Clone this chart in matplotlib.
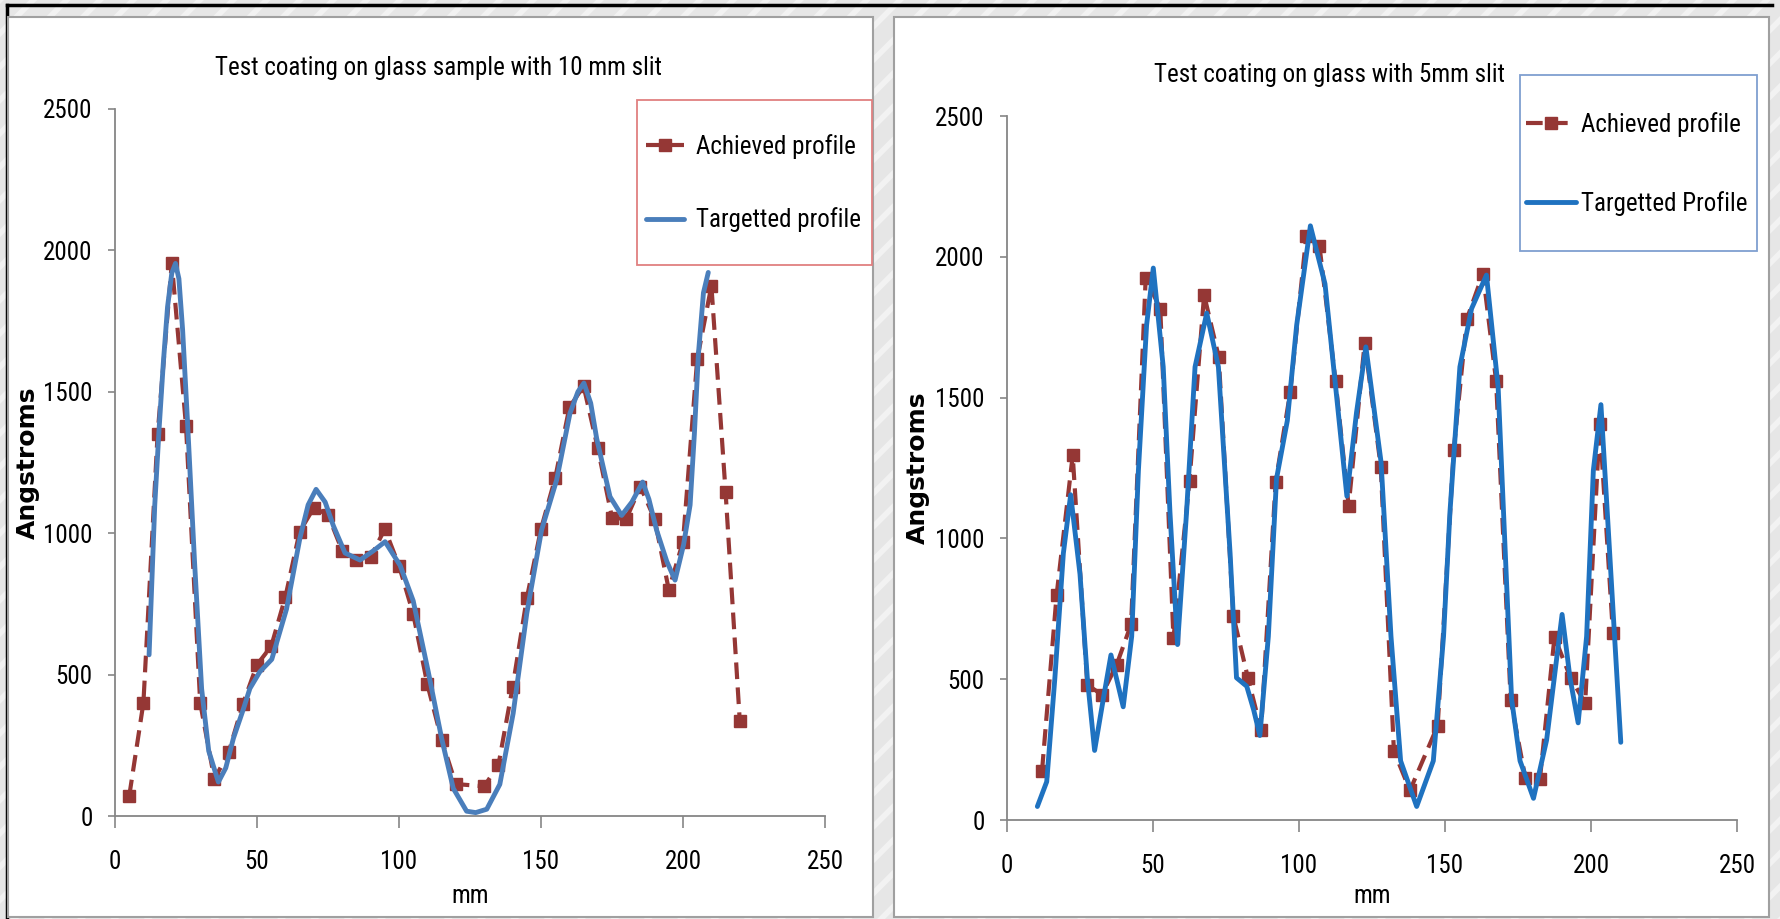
import matplotlib
matplotlib.use("Agg")
import matplotlib.pyplot as plt
from matplotlib import font_manager
from matplotlib.patches import Rectangle
from matplotlib.lines import Line2D

# the reference uses a narrow font; take the narrowest one that is installed
installed = [(f.name, str(f.stretch)) for f in font_manager.fontManager.ttflist]
FONT, STRETCH, FS = 'Liberation Sans', 'normal', 16.5
for name, stretch, size in [('Liberation Sans Narrow', 'normal', 19),
                            ('Roboto Condensed', 'normal', 18),
                            ('DejaVu Sans', 'condensed', 16),
                            ('Noto Sans', 'condensed', 17)]:
    if any(n == name and (stretch == 'normal' or s == stretch) for n, s in installed):
        FONT, STRETCH, FS = name, stretch, size
        break
plt.rcParams['font.family'] = [FONT, 'DejaVu Sans']
plt.rcParams['font.stretch'] = STRETCH

# left chart: 10 mm slit
left_title = "Test coating on glass sample with 10 mm slit"
left_ach_x = [5, 10, 15, 20, 25, 30, 35, 40, 45, 50, 55, 60, 65, 70, 75, 80, 85, 90, 95, 100,
              105, 110, 115, 120, 130, 135, 140, 145, 150, 155, 160, 165, 170, 175, 180, 185,
              190, 195, 200, 205, 210, 215, 220]
left_ach_y = [70, 400, 1350, 1955, 1380, 400, 130, 225, 395, 535, 600, 775, 1005, 1090, 1065,
              938, 905, 915, 1015, 885, 715, 465, 270, 113, 105, 180, 455, 770, 1015, 1195,
              1445, 1520, 1300, 1055, 1050, 1165, 1050, 800, 970, 1615, 1875, 1145, 335]
left_tgt_x = [12, 14, 15.5, 17, 18.5, 20, 21.3, 22.5, 23.8, 25.5, 28, 30.5, 33, 36.4, 39, 41.7,
              45.2, 47.5, 51, 55.2, 60.4, 65.1, 68, 70.8, 74, 76.9, 81, 86.3, 91, 95.1, 100.4,
              105, 110.3, 115, 119.1, 123.8, 127, 130.9, 135.5, 140.2, 145, 150.2, 155.5,
              160.2, 163, 165.1, 167.5, 169.6, 174.3, 178.4, 182, 185.8, 188, 190.7, 194.3,
              197.2, 200.2, 202.5, 204, 205.4, 207.2, 208.9]
left_tgt_y = [570, 1100, 1365, 1600, 1800, 1920, 1954, 1900, 1720, 1400, 900, 450, 230, 120,
              170, 275, 378, 451, 510, 554, 732, 982, 1100, 1155, 1110, 1026, 930, 905, 938,
              970, 886, 761, 510, 275, 98, 17, 12, 24, 112, 363, 717, 1011, 1188, 1424,
              1500, 1531, 1460, 1335, 1129, 1063, 1110, 1181, 1120, 1011, 900, 834, 959,
              1100, 1350, 1630, 1850, 1922]

# right chart: 5 mm slit
right_title = "Test coating on glass with 5mm slit"
right_ach_x = [12, 17, 22.5, 27.5, 32.5, 37.5, 42.5, 47.5, 52.5, 57, 62.5, 67.5, 72.5, 77.5,
               82.5, 87, 92, 97, 102.5, 107, 112.5, 117, 122.5, 128, 132.5, 138, 147.5, 153,
               157.5, 163, 167.5, 172.5, 177.5, 182.5, 187.5, 193, 198, 203, 207.5]
right_ach_y = [175, 800, 1295, 480, 445, 550, 695, 1925, 1815, 645, 1205, 1865, 1645, 725,
               505, 320, 1200, 1520, 2075, 2040, 1560, 1115, 1695, 1255, 245, 105, 335, 1315,
               1780, 1940, 1560, 425, 150, 145, 650, 505, 415, 1405, 665]
right_tgt_x = [10.4, 13.6, 16.4, 19.3, 21.8, 25, 27.5, 30, 33, 35.6, 39.8, 42.7, 45, 47.8,
               50.1, 53.5, 55.8, 58.4, 61.5, 64.4, 68.4, 72.4, 76.4, 78.6, 82.1, 84.5, 86.6,
               89.5, 92.3, 96, 99.2, 103.9, 108.9, 112.3, 116.4, 119.7, 122.9, 128.1, 131.5,
               134.8, 140.3, 146, 149.5, 151.7, 155.1, 159.1, 164.2, 168.2, 170.5, 172.8,
               175.7, 180.3, 184.8, 190.1, 192.8, 195.6, 198.5, 200.8, 203.4, 206.4, 210.2]
right_tgt_y = [48, 136, 505, 947, 1155, 873, 505, 247, 431, 586, 402, 652, 1241, 1757,
               1960, 1609, 1094, 623, 1094, 1609, 1800, 1609, 947, 505, 475, 390, 300,
               652, 1212, 1418, 1757, 2110, 1904, 1563, 1150, 1447, 1680, 1271, 652,
               210, 48, 210, 652, 1094, 1609, 1816, 1935, 1536, 983, 430,
               210, 77, 284, 730, 505, 345, 652, 1241, 1475, 947, 276]

xticks = [0, 50, 100, 150, 200, 250]
yticks = [0, 500, 1000, 1500, 2000, 2500]

W, H = 1780, 919
RED = '#953735'


def fx(px):
    return px / W


def fy(py):
    return 1 - py / H


fig = plt.figure(figsize=(W / 100, H / 100), dpi=100)
fig.patch.set_facecolor('#e6e6e6')
plt.rcParams['hatch.linewidth'] = 4
fig.add_artist(Rectangle((0, 0), 1, 1, transform=fig.transFigure, facecolor='#e6e6e6',
                         edgecolor='#f2f2f2', hatch='/', lw=0, zorder=-3))
# outer frame
fig.add_artist(Line2D([fx(7), fx(1772)], [fy(5), fy(5)], color='black', lw=2.5, zorder=-2))
fig.add_artist(Line2D([fx(7), fx(7)], [fy(5), 0], color='black', lw=2.5, zorder=-2))
# white chart panels
for x0, x1 in [(8, 873), (894, 1769)]:
    fig.add_artist(Rectangle((fx(x0), fy(917)), (x1 - x0) / W, 900 / H,
                             transform=fig.transFigure, facecolor='white',
                             edgecolor='#a0a0a0', lw=1.5, zorder=-1))


def make_panel(box, title, title_x, ach_x, ach_y, tgt_x, tgt_y, blue, legend_box,
               legend_pos, handlelen, textpad, spacing, tgt_label, legend_edge, ylab_x, xlab_y):
    l, b, r, t = box
    ax = fig.add_axes([fx(l), fy(b), (r - l) / W, (b - t) / H])
    ax.patch.set_alpha(0)
    ax.plot(ach_x, ach_y, color=RED, lw=3, dashes=(4, 2), marker='s', markersize=8,
            label='Achieved profile', zorder=3)
    ax.plot(tgt_x, tgt_y, color=blue, lw=3.5, label=tgt_label, zorder=4,
            solid_joinstyle='round', solid_capstyle='round')
    ax.set_xlim(0, 250)
    ax.set_ylim(0, 2500)
    ax.set_xticks(xticks)
    ax.set_yticks(yticks)
    for s in ['top', 'right']:
        ax.spines[s].set_visible(False)
    for s in ['left', 'bottom']:
        ax.spines[s].set_color('#868686')
        ax.spines[s].set_linewidth(1.3)
    ax.tick_params(axis='x', length=8.6, width=1.2, color='#868686', pad=16, labelsize=FS)
    ax.tick_params(axis='y', length=5, width=1.2, color='#868686', pad=11, labelsize=FS)
    ax.text(title_x, 1.058, title, transform=ax.transAxes, ha='center', va='center',
            fontsize=FS)
    ax.set_xlabel('mm', fontsize=FS)
    ax.xaxis.label.set_va('center')
    ax.xaxis.set_label_coords(0.5, xlab_y)
    ax.set_ylabel('Angstroms', fontsize=18, fontweight='bold', family='DejaVu Sans',
                  stretch='normal')
    ax.yaxis.label.set_va('center')
    ax.yaxis.set_label_coords(ylab_x, 0.5)

    lx0, ly0, lx1, ly1 = legend_box
    frame = Rectangle((fx(lx0), fy(ly1)), (lx1 - lx0) / W, (ly1 - ly0) / H,
                      transform=fig.transFigure, facecolor='white',
                      edgecolor=legend_edge, lw=1.3, zorder=5, clip_on=False)
    ax.add_artist(frame)
    leg = ax.legend(loc='center left', bbox_to_anchor=(fx(legend_pos[0]), fy(legend_pos[1])),
                    bbox_transform=fig.transFigure, frameon=False, fontsize=FS,
                    borderpad=0, borderaxespad=0, handlelength=handlelen,
                    handletextpad=textpad, labelspacing=spacing, numpoints=1)
    leg.set_zorder(6)
    return ax


make_panel((115, 816, 825, 109), left_title, 0.456, left_ach_x, left_ach_y,
           left_tgt_x, left_tgt_y, '#4a7ebb', (637, 100, 872, 265), (646, 183),
           1.5, 0.5, 1.95, 'Targetted profile', '#e08080', -0.1225, -0.113)
make_panel((1007, 820, 1737, 116), right_title, 0.442, right_ach_x, right_ach_y,
           right_tgt_x, right_tgt_y, '#1f72c0', (1520, 75, 1757, 251), (1526, 164),
           2.0, 0.2, 2.15, 'Targetted Profile', '#7f9fd0', -0.122, -0.108)

fig.savefig('out.png', dpi=100, facecolor=fig.get_facecolor())
